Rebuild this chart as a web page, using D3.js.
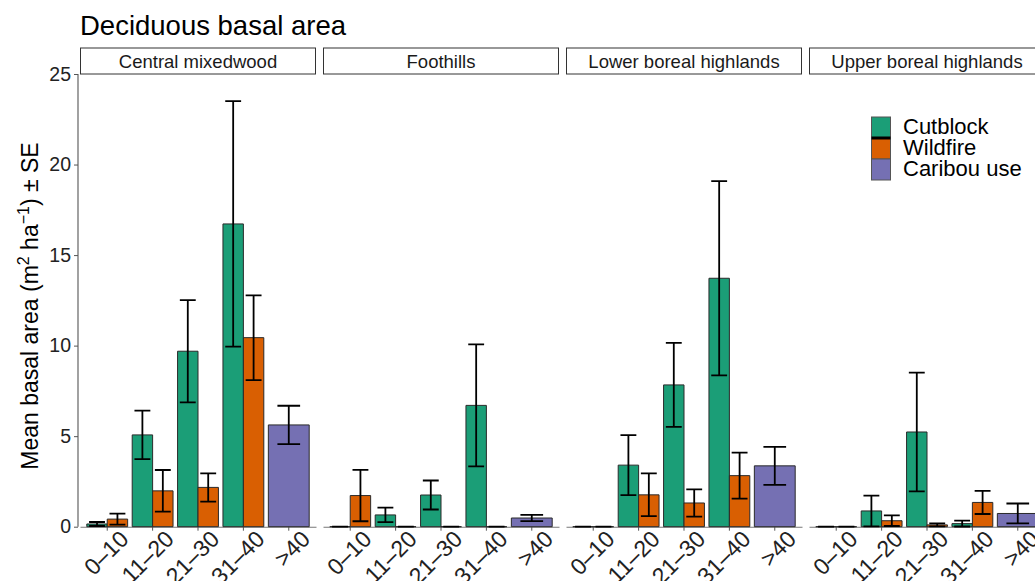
<!DOCTYPE html>
<html>
<head>
<meta charset="utf-8">
<script src="https://cdn.jsdelivr.net/npm/d3@7"></script>
<style>
  body { margin: 0; background: #fff; }
  svg { display: block; font-family: "Liberation Sans", Arial, sans-serif; }
</style>
</head>
<body>
<svg id="chart" width="1035" height="581"></svg>
<script>
// Ecozone facets and stand-age classes
const regions = ["Central mixedwood", "Foothills", "Lower boreal highlands", "Upper boreal highlands"];
const ageClasses = ["0–10", "11–20", "21–30", "31–40", ">40"];
const disturbances = ["Cutblock", "Wildfire"];
const legendLabels = ["Cutblock", "Wildfire", "Caribou use"];
const yTicks = [0, 5, 10, 15, 20, 25];

// Mean deciduous basal area (m² ha⁻¹) per region, for age classes 0–10 … 31–40
const cutblockMean = [
  [0.15, 5.07, 9.69, 16.72],
  [0.00, 0.65, 1.75, 6.70],
  [0.00, 3.40, 7.83, 13.72],
  [0.00, 0.87, 5.23, 0.17]
];
const cutblockSE = [
  [0.11, 1.34, 2.82, 6.78],
  [0.00, 0.40, 0.80, 3.37],
  [0.00, 1.66, 2.32, 5.36],
  [0.00, 0.85, 3.28, 0.16]
];
const wildfireMean = [
  [0.42, 1.98, 2.17, 10.44],
  [1.72, 0.00, 0.00, 0.00],
  [0.00, 1.76, 1.31, 2.82],
  [0.00, 0.33, 0.10, 1.34]
];
const wildfireSE = [
  [0.30, 1.15, 0.78, 2.34],
  [1.42, 0.00, 0.00, 0.00],
  [0.00, 1.18, 0.75, 1.27],
  [0.00, 0.29, 0.08, 0.64]
];
// Caribou-use plots (>40 years only)
const caribouMean = [5.62, 0.48, 3.36, 0.73];
const caribouSE = [1.06, 0.17, 1.05, 0.55];

const colors = { "Cutblock": "#1B9E77", "Wildfire": "#D95F02", "Caribou use": "#7570B3" };

// Long-format rows built from the arrays above
const rows = [];
regions.forEach((r, ri) => {
  ageClasses.slice(0, 4).forEach((a, ai) => {
    rows.push({ region: r, age: a, group: "Cutblock", mean: cutblockMean[ri][ai], se: cutblockSE[ri][ai] });
    rows.push({ region: r, age: a, group: "Wildfire", mean: wildfireMean[ri][ai], se: wildfireSE[ri][ai] });
  });
  rows.push({ region: r, age: ">40", group: "Caribou use", mean: caribouMean[ri], se: caribouSE[ri] });
});

const svg = d3.select("#chart");
const font = "'Liberation Sans', Arial, sans-serif";

const y = d3.scaleLinear().domain([0, 25]).range([526.7, 74]);
const panelX = d3.scaleBand().domain(regions).range([80, 1045]).paddingInner(7 / 243).paddingOuter(0);
const pw = panelX.bandwidth();
const x = d3.scaleBand().domain(ageClasses).range([0, pw]).paddingInner(0).paddingOuter(0.1);
const step = x.bandwidth();
const dodge = d3.scaleBand().domain(disturbances).range([0, 0.9 * step]);

// Title
svg.append("text").attr("x", 80).attr("y", 35)
  .attr("font-size", 27.5).attr("fill", "#000").text("Deciduous basal area");

// Y axis (left of first panel)
const yAxis = svg.append("g").attr("transform", "translate(78,0)")
  .call(d3.axisLeft(y).tickValues(yTicks).tickSize(4).tickSizeOuter(0).tickPadding(3));
yAxis.select(".domain").attr("stroke", "#555").attr("stroke-width", 1.1)
  .attr("d", `M0,${y(0)}V${y(25)}`);
yAxis.selectAll(".tick line").attr("stroke", "#555");
yAxis.selectAll(".tick text").attr("font-size", 19.5).attr("font-family", font).attr("fill", "#222");

// Y label with superscripts
const yl = svg.append("text")
  .attr("transform", "translate(38,306) rotate(-90)")
  .attr("text-anchor", "middle").attr("font-size", 23).attr("fill", "#000");
yl.append("tspan").text("Mean basal area (m");
yl.append("tspan").attr("dy", -9).attr("font-size", 16).text("2");
yl.append("tspan").attr("dy", 9).text(" ha");
yl.append("tspan").attr("dy", -9).attr("font-size", 16).text("−1");
yl.append("tspan").attr("dy", 9).text(") ± SE");

regions.forEach(region => {
  const g = svg.append("g").attr("transform", `translate(${panelX(region)},0)`);

  // Strip header
  g.append("rect").attr("x", 0.5).attr("y", 48).attr("width", pw - 1).attr("height", 26)
    .attr("fill", "#fff").attr("stroke", "#333").attr("stroke-width", 1);
  g.append("text").attr("x", pw / 2).attr("y", 67.5).attr("text-anchor", "middle")
    .attr("font-size", 18.5).attr("fill", "#1a1a1a").text(region);

  // X axis
  const xa = g.append("g").attr("transform", `translate(0,${y(0)})`)
    .call(d3.axisBottom(x).tickSize(4).tickSizeOuter(0));
  xa.select(".domain").attr("stroke", "#777").attr("stroke-width", 1.1);
  xa.selectAll(".tick line").attr("stroke", "#555");
  xa.selectAll(".tick text")
    .attr("font-size", 23).attr("font-family", font).attr("fill", "#222")
    .attr("text-anchor", "end")
    .attr("transform", "translate(11,2) rotate(-45)")
    .attr("x", 0).attr("y", 0).attr("dy", "0.72em");

  const data = rows.filter(d => d.region === region);

  const left = d => d.group === "Caribou use"
    ? x(d.age) + x.bandwidth() / 2 - 0.45 * step
    : x(d.age) + x.bandwidth() / 2 - 0.45 * step + dodge(d.group);
  const width = d => d.group === "Caribou use" ? 0.9 * step : dodge.bandwidth();

  // Bars (zero-height bars still show their outline)
  g.selectAll("path.bar").data(data).join("path").attr("class", "bar")
    .attr("d", d => {
      const x0 = left(d), w = width(d), y0 = y(0), y1 = y(d.mean);
      return `M${x0},${y0}H${x0 + w}V${y1}H${x0}Z`;
    })
    .attr("fill", d => colors[d.group])
    .attr("stroke", "#2a2a2a").attr("stroke-width", 1);

  // Error bars
  const eb = g.selectAll("g.eb").data(data).join("g").attr("class", "eb")
    .attr("stroke", "#000").attr("stroke-width", 1.8).attr("fill", "none");
  eb.append("path").attr("d", d => {
    const cx = left(d) + width(d) / 2;
    const hw = (d.group === "Caribou use" ? 0.5 * step : 0.35 * step) / 2;
    const lo = y(Math.max(0, d.mean - d.se)), hi = y(d.mean + d.se);
    return `M${cx - hw},${hi}H${cx + hw}M${cx},${hi}V${lo}M${cx - hw},${lo}H${cx + hw}`;
  });
});

// Legend
const lg = svg.append("g").attr("transform", "translate(871,117)");
const keyH = 21, keyW = 19;
legendLabels.forEach((lab, i) => {
  lg.append("rect").attr("x", 0.5).attr("y", i * keyH).attr("width", keyW).attr("height", keyH)
    .attr("fill", colors[lab]).attr("stroke", "#555").attr("stroke-width", 1);
  lg.append("text").attr("x", 32).attr("y", i * keyH + 17)
    .attr("font-size", 22).attr("fill", "#000").text(lab);
});
lg.append("line").attr("x1", 0.5).attr("x2", keyW + 0.5).attr("y1", keyH).attr("y2", keyH)
  .attr("stroke", "#000").attr("stroke-width", 3);
</script>
</body>
</html>
